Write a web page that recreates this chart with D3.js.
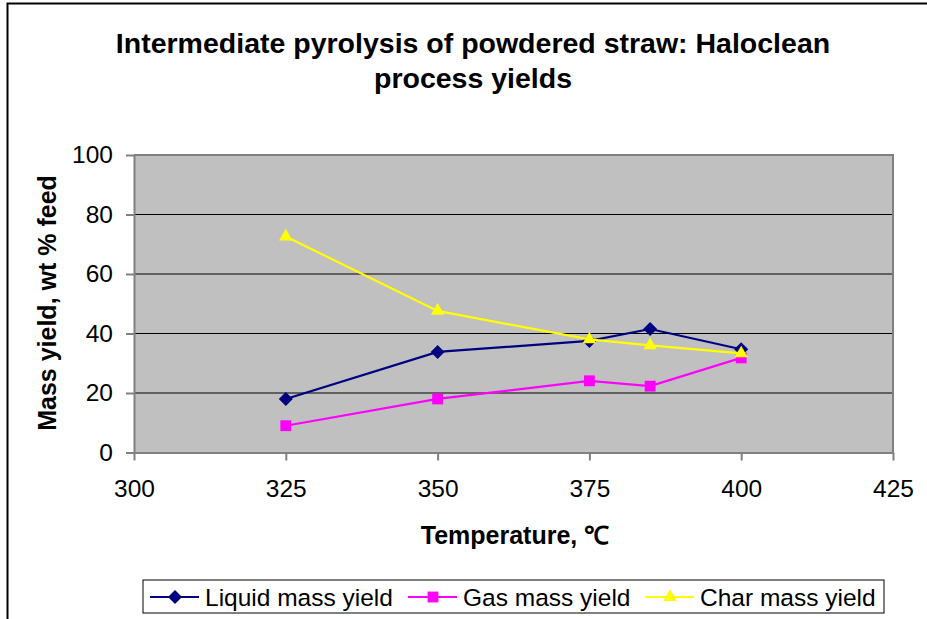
<!DOCTYPE html>
<html><head><meta charset="utf-8">
<script src="https://cdn.jsdelivr.net/npm/d3@7"></script>
<style>
html,body{margin:0;padding:0;background:#fff;}
svg{display:block;font-family:"Liberation Sans",Arial,sans-serif;}
</style></head>
<body>
<svg id="chart" width="927" height="619"></svg>
<script>
const temperatures = [325, 350, 375, 385, 400];
const liquidYield = [18.0, 33.8, 37.5, 41.5, 34.7];
const gasYield = [9.0, 18.0, 24.1, 22.3, 31.8];
const charYield = [72.6, 47.6, 38.0, 36.0, 33.3];
const xTicks = [300, 325, 350, 375, 400, 425];
const yTicks = [0, 20, 40, 60, 80, 100];
const seriesNames = ["Liquid mass yield", "Gas mass yield", "Char mass yield"];

const series = [
  {name: seriesNames[0], values: liquidYield, color: "#000080", symbol: d3.symbolDiamond2, size: 125},
  {name: seriesNames[1], values: gasYield, color: "#FF00FF", symbol: d3.symbolSquare2, size: 150},
  {name: seriesNames[2], values: charYield, color: "#FFFF00", symbol: d3.symbolTriangle2, size: 130}
];

const svg = d3.select("#chart");
const L = 134, R = 893, T = 155, B = 452.5;
const x = d3.scaleLinear().domain([300, 425]).range([L, R]);
const y = d3.scaleLinear().domain([0, 100]).range([B, T]);

// outer border
svg.append("rect").attr("x", 7.5).attr("y", 3.5).attr("width", 940).attr("height", 640)
  .attr("fill", "none").attr("stroke", "#000").attr("stroke-width", 2);

// plot background
svg.append("rect").attr("x", L).attr("y", T).attr("width", R - L).attr("height", B - T)
  .attr("fill", "#C0C0C0");

// gridlines
svg.append("g").selectAll("line").data(yTicks.filter(t => t > 0 && t < 100)).join("line")
  .attr("x1", L).attr("x2", R).attr("y1", d => y(d)).attr("y2", d => y(d))
  .attr("stroke", "#000").attr("stroke-width", 1);

// plot border (top/right)
svg.append("path").attr("d", `M${L},${T}H${R}V${B}`).attr("fill", "none")
  .attr("stroke", "#808080").attr("stroke-width", 2);

// axes
const xAxis = d3.axisBottom(x).tickValues(xTicks).tickSize(8).tickPadding(19).tickSizeOuter(0);
const yAxis = d3.axisLeft(y).tickValues(yTicks).tickSize(8).tickPadding(13).tickSizeOuter(0);
const gx = svg.append("g").attr("transform", `translate(0,${B})`).call(xAxis);
const gy = svg.append("g").attr("transform", `translate(${L},0)`).call(yAxis);
[gx, gy].forEach(g => {
  g.select(".domain").attr("stroke", "#808080").attr("stroke-width", 2);
  g.selectAll(".tick line").attr("stroke", "#808080").attr("stroke-width", 2);
  g.selectAll(".tick text").attr("fill", "#000").attr("font-size", 24.5)
    .attr("font-family", "Liberation Sans, Arial, sans-serif");
});
gx.selectAll(".tick text").attr("dy", "0.71em");

// lines and markers
const line = d3.line().x((d, i) => x(temperatures[i])).y(d => y(d));
series.forEach(s => {
  svg.append("path").datum(s.values).attr("d", line).attr("fill", "none")
    .attr("stroke", s.color).attr("stroke-width", 2.2);
  svg.append("g").selectAll("path").data(s.values).join("path")
    .attr("transform", (d, i) => `translate(${x(temperatures[i])},${y(d)})`)
    .attr("d", d3.symbol().type(s.symbol).size(s.size))
    .attr("fill", s.color).attr("stroke", "none");
});

// title
const title = svg.append("text").attr("text-anchor", "middle").attr("font-weight", "bold")
  .attr("font-size", 28.5).attr("fill", "#000");
title.append("tspan").attr("x", 473).attr("y", 53).text("Intermediate pyrolysis of powdered straw: Haloclean");
title.append("tspan").attr("x", 473).attr("y", 88).text("process yields");

// axis titles
svg.append("text").attr("x", 515).attr("y", 544).attr("text-anchor", "middle")
  .attr("font-weight", "bold").attr("font-size", 25).text("Temperature, ℃");
svg.append("text").attr("transform", "translate(56,303) rotate(-90)").attr("text-anchor", "middle")
  .attr("font-weight", "bold").attr("font-size", 25).text("Mass yield, wt % feed");

// legend
const lg = svg.append("g");
lg.append("rect").attr("x", 143).attr("y", 580).attr("width", 741).attr("height", 33)
  .attr("fill", "#fff").attr("stroke", "#000").attr("stroke-width", 1);
const legendX = [150, 408, 645];
series.forEach((s, i) => {
  const g = lg.append("g").attr("transform", `translate(${legendX[i]},597)`);
  g.append("line").attr("x1", 0).attr("x2", 49).attr("stroke", s.color).attr("stroke-width", 2.2);
  g.append("path").attr("transform", "translate(25,0)")
    .attr("d", d3.symbol().type(s.symbol).size(s.size)).attr("fill", s.color);
  g.append("text").attr("x", 55).attr("y", 8.8).attr("font-size", 24.5).text(s.name);
});
</script>
</body></html>
